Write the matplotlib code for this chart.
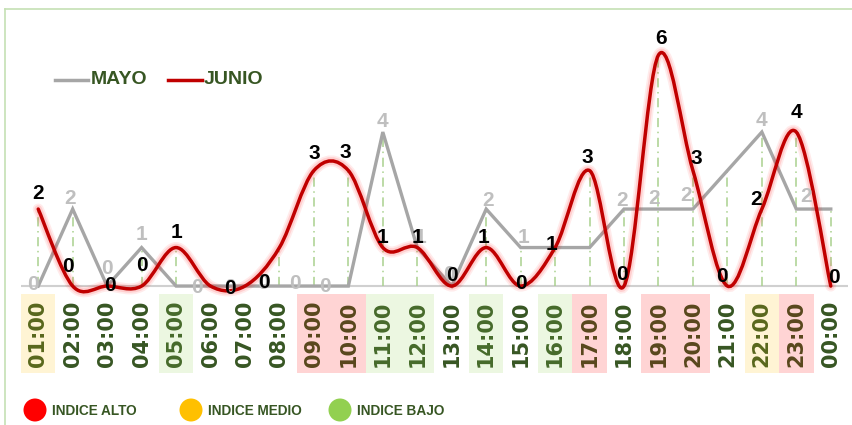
import matplotlib
matplotlib.use("Agg")
import matplotlib.pyplot as plt
import numpy as np
from matplotlib.path import Path
from matplotlib.patches import PathPatch, Rectangle, Circle
from matplotlib.lines import Line2D
from matplotlib.transforms import blended_transform_factory
import matplotlib.patheffects as pe

# ---------------- data ----------------
hours = ["01:00", "02:00", "03:00", "04:00", "05:00", "06:00", "07:00", "08:00",
         "09:00", "10:00", "11:00", "12:00", "13:00", "14:00", "15:00", "16:00",
         "17:00", "18:00", "19:00", "20:00", "21:00", "22:00", "23:00", "00:00"]
mayo = [0, 2, 0, 1, 0, 0, 0, 0, 0, 0, 4, 1, 0, 2, 1, 1, 1, 2, 2, 2, 3, 4, 2, 2]
junio = [2, 0, 0, 0, 1, 0, 0, 1, 3, 3, 1, 1, 0, 1, 0, 1, 3, 0, 6, 3, 0, 2, 4, 0]
highlight_hours = ["01:00", "05:00", "09:00", "10:00", "11:00", "12:00", "14:00",
                   "16:00", "17:00", "19:00", "20:00", "22:00", "23:00"]
highlight_levels = ["MEDIO", "BAJO", "ALTO", "ALTO", "BAJO", "BAJO", "BAJO",
                    "BAJO", "ALTO", "ALTO", "ALTO", "MEDIO", "ALTO"]
level_names = ["INDICE ALTO", "INDICE MEDIO", "INDICE BAJO"]
series_names = ["MAYO", "JUNIO"]

# ---------------- styles ----------------
GREEN_TXT = "#375623"
RED = "#C00000"
GRAY = "#A6A6A6"
LABEL_GRAY = "#BFBFBF"
level_colors = {"ALTO": "#FF0000", "MEDIO": "#FFC000", "BAJO": "#92D050"}
# label offsets in image pixels (dx, dy; dy positive = down)
junio_off = [(0, -16), (-5, -20), (3, -1), (0, -21), (0, -15), (19, 2), (19, -4), None,
             (0, -17), (-3, -18), (0, -10), (0, -10), (0, -11), (-3, -10), (0, -3), (-4, -3),
             (-2, -13), (-2, -12), (3, -17), (3, -12), (-5, -10), (-6, -10), (0, -20), (3, -9)]
mayo_off = [(-5, -2), (-3, -11), (0, -18), (0, -13), (21, 1), (19, 1), (18, -3), (15, -3),
            (11, 0), None, (0, -11), (3, -10), (-3, -12), (2, -9), (3, -10), None,
            None, (-2, -9), (-4, -11), (-7, -14), None, (0, -12), (10, -13), None]

W, H = 853, 425
fig = plt.figure(figsize=(W / 100, H / 100), dpi=100)
fig.patch.set_facecolor("white")

ymin, ymax = -0.3, 6.9
bottom_px = 297.6
top_px = 20.4
ax = fig.add_axes([21 / W, (H - bottom_px) / H, 827 / W, (bottom_px - top_px) / H])
ax.set_xlim(-0.5, len(hours) - 0.5)
ax.set_ylim(ymin, ymax)
ax.set_facecolor("none")
for s in ax.spines.values():
    s.set_visible(False)
ax.set_yticks([])

x = np.arange(len(hours))

# baseline
ax.axhline(0, color="#D0D0D0", lw=1.5, zorder=1)

# drop lines
for i in range(len(hours)):
    top = max(mayo[i], junio[i])
    if top > 0:
        ax.plot([x[i], x[i]], [0, top], color="#A9D18E", lw=1.1,
                linestyle=(0, (6, 3, 1, 3)), zorder=2)

# MAYO straight line
ax.plot(x, mayo, color=GRAY, lw=2.4, zorder=3, solid_joinstyle="miter", clip_on=False)

# JUNIO smooth line (Bezier through points)
def smooth_path(xs, ys):
    pts = np.column_stack([xs, ys]).astype(float)
    n = len(pts)
    verts = [pts[0]]
    codes = [Path.MOVETO]
    for i in range(n - 1):
        p0 = pts[i - 1] if i > 0 else pts[i]
        p1 = pts[i]
        p2 = pts[i + 1]
        p3 = pts[i + 2] if i + 2 < n else pts[i + 1]
        c1 = p1 + (p2 - p0) / 6.0
        c2 = p2 - (p3 - p1) / 6.0
        verts += [c1, c2, p2]
        codes += [Path.CURVE4] * 3
    return Path(verts, codes)

pp = PathPatch(smooth_path(x, junio), facecolor="none", edgecolor=RED, lw=2.5,
               zorder=4, clip_on=False, capstyle="round")
pp.set_path_effects([
    pe.Stroke(linewidth=8, foreground=(1, 0, 0, 0.08)),
    pe.Stroke(linewidth=5.5, foreground=(1, 0.2, 0.2, 0.15)),
    pe.Normal()])
ax.add_patch(pp)

# data labels
lab_font = dict(family=["Liberation Sans", "DejaVu Sans"], weight="bold", fontsize=15)
for i in range(len(hours)):
    if mayo_off[i] is not None:
        dx, dy = mayo_off[i]
        ax.annotate(str(mayo[i]), (x[i], mayo[i]), xytext=(dx, -dy),
                    textcoords="offset pixels", ha="center", va="center",
                    color=LABEL_GRAY, zorder=5, annotation_clip=False, **lab_font)
for i in range(len(hours)):
    if junio_off[i] is not None:
        dx, dy = junio_off[i]
        ax.annotate(str(junio[i]), (x[i], junio[i]), xytext=(dx, -dy),
                    textcoords="offset pixels", ha="center", va="center",
                    color="black", zorder=6, annotation_clip=False, **lab_font)

# x tick labels
ax.set_xticks(x)
ax.set_xticklabels(hours, rotation=90, fontsize=15, fontweight="bold",
                   color=GREEN_TXT, family="DejaVu Sans", va="top")
ax.tick_params(axis="x", length=0, pad=2)

# highlight boxes over tick labels
tr = blended_transform_factory(ax.transData, fig.transFigure)
for h, lvl in zip(highlight_hours, highlight_levels):
    i = hours.index(h)
    y0 = (H - 373) / H
    y1 = (H - 294) / H
    fig.add_artist(Rectangle((i - 0.5, y0), 1.0, y1 - y0, transform=tr,
                             facecolor=level_colors[lvl], alpha=0.17,
                             edgecolor="none", zorder=5))

# top legend
leg_font = dict(family=["Liberation Sans", "DejaVu Sans"], weight="bold",
                fontsize=14, color=GREEN_TXT)
ly = (H - 80) / H
fig.add_artist(Line2D([55 / W, 88 / W], [ly, ly], color=GRAY, lw=2.5))
fig.text(91 / W, ly, series_names[0], ha="left", va="center", **leg_font)
fig.add_artist(Line2D([168 / W, 202 / W], [ly, ly], color=RED, lw=2.5))
fig.text(204 / W, ly, series_names[1], ha="left", va="center", **leg_font)

# bottom legend
bl_font = dict(family=["Liberation Sans", "DejaVu Sans"], weight="bold",
               fontsize=9.8, color=GREEN_TXT)
by = (H - 411) / H
for cx, name, lvl in zip([35, 191, 340], level_names, ["ALTO", "MEDIO", "BAJO"]):
    fig.add_artist(Circle((cx, H - 410), 11.5, transform=None,
                          facecolor=level_colors[lvl], edgecolor="none"))
    fig.text((cx + 17) / W, by, name, ha="left", va="center", **bl_font)

# outer frame (top and left edges)
fc = "#C5E0B4"
fig.add_artist(Line2D([5 / W, 1.0], [(H - 9) / H, (H - 9) / H], color=fc, lw=1.2))
fig.add_artist(Line2D([5 / W, 5 / W], [0, (H - 9) / H], color=fc, lw=1.2))

fig.savefig("out.png", dpi=100)
